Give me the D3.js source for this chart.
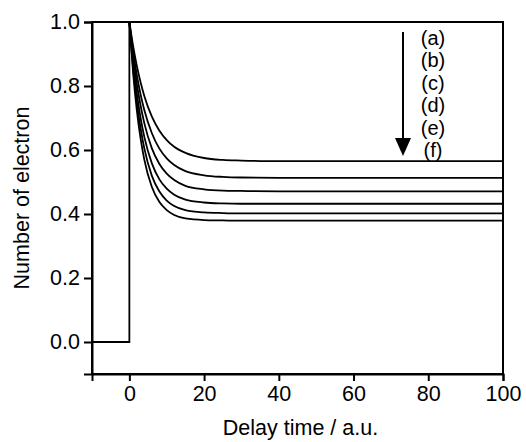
<!DOCTYPE html>
<html>
<head>
<meta charset="utf-8">
<script src="https://cdn.jsdelivr.net/npm/d3@7"></script>
<style>
  body { margin: 0; background: #fff; }
  svg { display: block; font-family: "Liberation Sans", Arial, Helvetica, sans-serif; }
</style>
</head>
<body>
<div id="chart"></div>
<script>
// delay time samples (a.u.)
const times = [0, 1, 2, 3, 4, 6, 8, 10, 12, 15, 20, 25, 30, 40, 100];

// number of electron
const curveA = [1, 0.925, 0.863, 0.812, 0.769, 0.705, 0.661, 0.631, 0.610, 0.591, 0.575, 0.569, 0.567, 0.565, 0.565];
const curveB = [1, 0.909, 0.834, 0.774, 0.725, 0.653, 0.605, 0.574, 0.553, 0.534, 0.521, 0.516, 0.514, 0.513, 0.513];
const curveC = [1, 0.892, 0.807, 0.739, 0.684, 0.606, 0.557, 0.526, 0.506, 0.488, 0.477, 0.473, 0.472, 0.471, 0.471];
const curveD = [1, 0.874, 0.777, 0.700, 0.641, 0.559, 0.509, 0.479, 0.460, 0.445, 0.436, 0.433, 0.432, 0.432, 0.432];
const curveE = [1, 0.858, 0.750, 0.668, 0.605, 0.520, 0.471, 0.442, 0.425, 0.412, 0.405, 0.403, 0.402, 0.402, 0.402];
const curveF = [1, 0.842, 0.724, 0.636, 0.570, 0.485, 0.438, 0.412, 0.397, 0.386, 0.381, 0.380, 0.379, 0.379, 0.379];

// step before t = 0
const stepX = [-10, 0, 0];
const stepY = [0, 0, 1];

const labels = ["(a)", "(b)", "(c)", "(d)", "(e)", "(f)"];
const xTicks = [0, 20, 40, 60, 80, 100];
const yTicks = [0, 0.2, 0.4, 0.6, 0.8, 1.0];

const width = 526, height = 442;
const margin = {top: 22, right: 23, bottom: 68, left: 92};
const fs = 21.5;

const x = d3.scaleLinear().domain([-10, 100]).range([margin.left, width - margin.right]);
const y = d3.scaleLinear().domain([-0.1, 1.0]).range([height - margin.bottom, margin.top]);

const svg = d3.select("#chart").append("svg")
    .attr("width", width)
    .attr("height", height);

// frame
svg.append("rect")
    .attr("x", margin.left)
    .attr("y", margin.top)
    .attr("width", width - margin.left - margin.right)
    .attr("height", height - margin.top - margin.bottom)
    .attr("fill", "none")
    .attr("stroke", "#000")
    .attr("stroke-width", 2);

const xAxis = svg.append("g")
    .attr("transform", `translate(0,${height - margin.bottom})`)
    .call(d3.axisBottom(x).tickValues(xTicks).tickFormat(d3.format("d")).tickSize(7).tickPadding(5));

const yAxis = svg.append("g")
    .attr("transform", `translate(${margin.left},0)`)
    .call(d3.axisLeft(y).tickValues(yTicks).tickFormat(d3.format(".1f")).tickSize(8).tickPadding(4));

[xAxis, yAxis].forEach(g => {
  g.attr("font-family", null);
  g.select(".domain").attr("stroke-width", 2);
  g.selectAll(".tick line").attr("stroke-width", 2);
  g.selectAll(".tick text").attr("font-size", fs).attr("fill", "#000");
});

svg.append("text")
    .attr("x", (margin.left + width - margin.right) / 2 + 3)
    .attr("y", 435)
    .attr("text-anchor", "middle")
    .attr("font-size", fs)
    .text("Delay time / a.u.");

svg.append("text")
    .attr("transform", `translate(29,${(margin.top + height - margin.bottom) / 2}) rotate(-90)`)
    .attr("text-anchor", "middle")
    .attr("font-size", fs)
    .text("Number of electron");

const plot = svg.append("g");

plot.append("path")
    .datum(stepX.map((d, i) => [d, stepY[i]]))
    .attr("fill", "none")
    .attr("stroke", "#000")
    .attr("stroke-width", 1.8)
    .attr("d", d3.line().x(d => x(d[0])).y(d => y(d[1])));

const line = d3.line()
    .x(d => x(d[0]))
    .y(d => y(d[1]))
    .curve(d3.curveMonotoneX);

[curveA, curveB, curveC, curveD, curveE, curveF].forEach(vals => {
  plot.append("path")
      .datum(times.map((t, i) => [t, vals[i]]))
      .attr("fill", "none")
      .attr("stroke", "#000")
      .attr("stroke-width", 1.8)
      .attr("d", line);
});

// legend: arrow and labels
const arrowX = 403, arrowTop = 32, arrowTip = 156;
svg.append("line")
    .attr("x1", arrowX).attr("x2", arrowX)
    .attr("y1", arrowTop).attr("y2", arrowTip - 12)
    .attr("stroke", "#000")
    .attr("stroke-width", 2);
svg.append("path")
    .attr("d", `M${arrowX - 8},${arrowTip - 18} L${arrowX + 8},${arrowTip - 18} L${arrowX},${arrowTip} Z`)
    .attr("fill", "#000");

svg.selectAll(".lab")
    .data(labels)
    .enter().append("text")
    .attr("class", "lab")
    .attr("x", 433)
    .attr("y", (d, i) => 38 + i * 22.4)
    .attr("dy", "0.35em")
    .attr("text-anchor", "middle")
    .attr("font-size", 20)
    .text(d => d);
</script>
</body>
</html>
